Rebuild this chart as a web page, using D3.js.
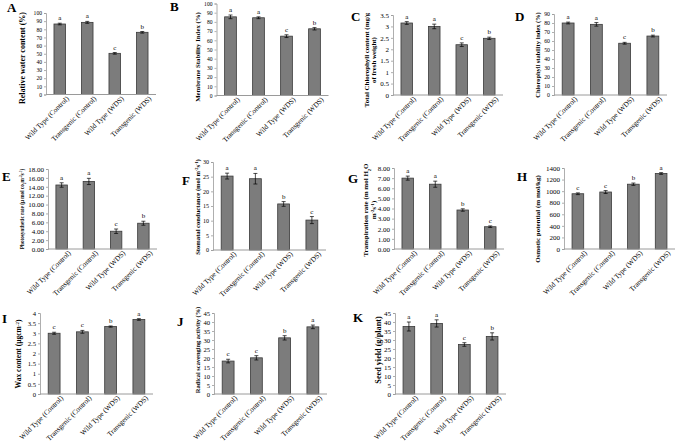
<!DOCTYPE html>
<html>
<head>
<meta charset="utf-8">
<script src="https://cdn.jsdelivr.net/npm/d3@7"></script>
<style>
  body { margin: 0; background: #fff; }
  text { font-family: "Liberation Serif", "Times New Roman", serif; fill: #000; }
</style>
</head>
<body>
<svg id="chart" width="676" height="444"></svg>
<script>
const categories = ['Wild Type (Control)', 'Transgenic (Control)', 'Wild Type (WDS)', 'Transgenic (WDS)'];

// A - relative water content (%)
const waterContent = [86.5, 88.5, 50.5, 76.3];
const waterContentErr = [1, 1.2, 1, 1];
const waterContentSig = ['a', 'a', 'c', 'b'];
// B - membrane stability index (%)
const membraneStability = [85.5, 84.5, 64.5, 72.5];
const membraneStabilityErr = [2, 1, 1.5, 1.3];
const membraneStabilitySig = ['a', 'a', 'c', 'b'];
// C - total chlorophyll (mg/g FW)
const chlorophyll = [3.15, 3.0, 2.2, 2.48];
const chlorophyllErr = [0.06, 0.1, 0.08, 0.05];
const chlorophyllSig = ['a', 'a', 'c', 'b'];
// D - chlorophyll stability index (%)
const chlStability = [80, 78.5, 57.5, 65.5];
const chlStabilityErr = [1, 2, 1, 1];
const chlStabilitySig = ['a', 'a', 'c', 'b'];
// E - photosynthetic rate
const photosynthesis = [14.4, 15.2, 4.0, 5.8];
const photosynthesisErr = [0.5, 0.7, 0.5, 0.45];
const photosynthesisSig = ['a', 'a', 'c', 'b'];
// F - stomatal conductance
const stomatal = [25.2, 24.3, 15.7, 10.2];
const stomatalErr = [1, 1.8, 0.8, 1.2];
const stomatalSig = ['a', 'a', 'b', 'c'];
// G - transpiration rate
const transpiration = [7.0, 6.4, 3.85, 2.2];
const transpirationErr = [0.2, 0.3, 0.12, 0.08];
const transpirationSig = ['a', 'a', 'b', 'c'];
// H - osmotic potential
const osmotic = [955, 985, 1120, 1305];
const osmoticErr = [15, 25, 20, 15];
const osmoticSig = ['c', 'c', 'b', 'a'];
// I - wax content
const wax = [3.0, 3.07, 3.33, 3.68];
const waxErr = [0.05, 0.07, 0.03, 0.04];
const waxSig = ['c', 'c', 'b', 'a'];
// J - radical scavenging activity (%)
const scavenging = [18.3, 20.1, 31.2, 37.3];
const scavengingErr = [1, 1.2, 1.2, 1];
const scavengingSig = ['c', 'c', 'b', 'a'];
// K - seed yield (g/plant)
const seedYield = [37.5, 39.2, 27.5, 32.0];
const seedYieldErr = [2.5, 2, 1, 2];
const seedYieldSig = ['a', 'a', 'c', 'b'];

// y-axis ranges: [max, step]
const axisA = [100, 10], axisB = [100, 10], axisC = [3.5, 0.5], axisD = [90, 10];
const axisE = [18, 2], axisF = [30, 5], axisG = [8, 1], axisH = [1400, 200];
const axisI = [4, 0.5], axisJ = [45, 5], axisK = [45, 5];

const fmtInt = d3.format('d');
const fmtGen = d => String(+d.toFixed(2));
const fmt2 = d3.format('.2f');

const panels = [
  { tag: 'A', v: waterContent, e: waterContentErr, s: waterContentSig, ax: axisA, fmt: fmtInt,
    title: [[['Relative water content (%)']]], box: [46, 156, 13, 94.5], tx: 22, ty: 58, ts: 8, ks: 5.6, lab: [7, 12] },
  { tag: 'B', v: membraneStability, e: membraneStabilityErr, s: membraneStabilitySig, ax: axisB, fmt: fmtInt,
    title: [[['Membrane Stability Index (%)']]], box: [216.5, 328.5, 3.5, 95.5], tx: 198, ty: 57, ts: 6.8, ks: 5.6, lab: [170, 11] },
  { tag: 'C', v: chlorophyll, e: chlorophyllErr, s: chlorophyllSig, ax: axisC, fmt: fmtGen,
    title: [[['Total Chlorophyll content (mg/g']], [['of fresh weight)']]], box: [393, 503, 15, 95], tx: 370, ty: 60, ts: 6.9, ks: 7, lab: [351, 21] },
  { tag: 'D', v: chlStability, e: chlStabilityErr, s: chlStabilitySig, ax: axisD, fmt: fmtInt,
    title: [[['Chlorophyll stability index (%)']]], box: [554, 667, 14, 95], tx: 538, ty: 55, ts: 6.4, ks: 5.8, lab: [515, 21] },
  { tag: 'E', v: photosynthesis, e: photosynthesisErr, s: photosynthesisSig, ax: axisE, fmt: fmt2,
    title: [[['Photosynthetic rate (\u00b5 mol co'], ['2', 'sub'], ['m'], ['-2', 'sup'], ['s'], ['-1', 'sup'], [')']]],
    box: [48, 157, 169, 249], tx: 22, ty: 209, ts: 5.2, ks: 7, lab: [2, 181] },
  { tag: 'F', v: stomatal, e: stomatalErr, s: stomatalSig, ax: axisF, fmt: fmtInt,
    title: [[['Stomatal conductance (mol m'], ['-2', 'sup'], ['s'], ['-1', 'sup'], [')']]],
    box: [213, 326, 162, 250], tx: 198, ty: 207, ts: 6.6, ks: 6, lab: [182, 185] },
  { tag: 'G', v: transpiration, e: transpirationErr, s: transpirationSig, ax: axisG, fmt: fmt2,
    title: [[['Transpiration rate (m mol H'], ['2', 'sub'], ['O']], [['m'], ['-2', 'sup'], ['s'], ['-1', 'sup'], [')']]],
    box: [394, 504, 168, 249], tx: 369.5, ty: 210, ts: 7, ks: 7, lab: [348, 183] },
  { tag: 'H', v: osmotic, e: osmoticErr, s: osmoticSig, ax: axisH, fmt: fmtInt,
    title: [[['Osmotic potential (m mol/kg)']]], box: [564, 675, 168, 249], tx: 538, ty: 219, ts: 7, ks: 7, lab: [517, 181] },
  { tag: 'I', v: wax, e: waxErr, s: waxSig, ax: axisI, fmt: fmtGen,
    title: [[['Wax content (\u00b5gcm'], ['-2', 'sup'], [')']]], box: [40, 153, 313, 394], tx: 18, ty: 354, ts: 7.5, ks: 6.6, lab: [2, 323] },
  { tag: 'J', v: scavenging, e: scavengingErr, s: scavengingSig, ax: axisJ, fmt: fmtInt,
    title: [[['Radical scavenging activity (%)']]], box: [214, 327, 313, 394], tx: 198, ty: 350, ts: 6.4, ks: 6.6, lab: [177, 326] },
  { tag: 'K', v: seedYield, e: seedYieldErr, s: seedYieldSig, ax: axisK, fmt: fmtInt,
    title: [[['Seed yield (g/plant)']]], box: [395, 506, 313, 394], tx: 378, ty: 350, ts: 8.2, ks: 7, lab: [353, 322] }
];

const svg = d3.select('#chart');

function drawPanel(p) {
  const [x0, x1, y0, y1] = p.box;
  const g = svg.append('g');

  const x = d3.scaleBand().domain(categories).range([x0, x1])
    .paddingInner(0.58).paddingOuter(0.29);
  const y = d3.scaleLinear().domain([0, p.ax[0]]).range([y1, y0]);
  const ticks = d3.range(0, p.ax[0] + p.ax[1] / 2, p.ax[1]);

  // y axis
  const yAxis = d3.axisLeft(y).tickValues(ticks).tickFormat(p.fmt).tickSize(2).tickPadding(2);
  const ya = g.append('g').attr('transform', `translate(${x0},0)`).call(yAxis);
  ya.select('.domain').attr('stroke', '#9a9a9a').attr('stroke-width', 0.8);
  ya.selectAll('.tick line').attr('stroke', '#9a9a9a').attr('stroke-width', 0.8);
  ya.selectAll('.tick text').attr('font-size', p.ks)
    .attr('font-family', '"Liberation Serif", serif').attr('fill', '#000');

  // bars
  g.selectAll('rect.bar').data(p.v).join('rect')
    .attr('class', 'bar')
    .attr('x', (d, i) => x(categories[i]))
    .attr('width', x.bandwidth())
    .attr('y', d => y(d))
    .attr('height', d => y1 - y(d))
    .attr('fill', '#7c7c7c')
    .attr('stroke', '#3a3a3a')
    .attr('stroke-width', 0.8);

  // baseline
  g.append('line').attr('x1', x0).attr('x2', x1).attr('y1', y1).attr('y2', y1)
    .attr('stroke', '#9a9a9a').attr('stroke-width', 1);

  // error bars
  const cap = 2;
  p.v.forEach((d, i) => {
    const cx = x(categories[i]) + x.bandwidth() / 2;
    const top = y(d + p.e[i]), bot = y(d - p.e[i]);
    const eg = g.append('g').attr('stroke', '#000').attr('stroke-width', 0.7);
    eg.append('line').attr('x1', cx).attr('x2', cx).attr('y1', top).attr('y2', bot);
    eg.append('line').attr('x1', cx - cap).attr('x2', cx + cap).attr('y1', top).attr('y2', top);
    eg.append('line').attr('x1', cx - cap).attr('x2', cx + cap).attr('y1', bot).attr('y2', bot);
    g.append('text').attr('x', cx).attr('y', top - 3)
      .attr('text-anchor', 'middle').attr('font-size', 7).text(p.s[i]);
  });

  // category labels
  categories.forEach(c => {
    const cx = x(c) + x.bandwidth() / 2;
    g.append('text')
      .attr('transform', `translate(${cx + 6},${y1 + 1}) rotate(-45)`)
      .attr('text-anchor', 'end').attr('dy', '0.7em')
      .attr('font-size', 7.2).text(c);
  });

  // y title
  const lh = p.ts * 1.05;
  p.title.forEach((segs, i) => {
    const cx = p.tx + (i - (p.title.length - 1) / 2) * lh;
    const t = g.append('text')
      .attr('transform', `translate(${cx},${p.ty}) rotate(-90)`)
      .attr('text-anchor', 'middle').attr('dy', '0.35em')
      .attr('font-weight', 'bold').attr('font-size', p.ts);
    segs.forEach(([str, kind]) => {
      const ts = t.append('tspan').text(str);
      if (kind) ts.attr('font-size', p.ts * 0.65).attr('baseline-shift', kind === 'sup' ? 'super' : 'sub');
    });
  });

  // panel letter
  g.append('text').attr('x', p.lab[0]).attr('y', p.lab[1])
    .attr('font-weight', 'bold').attr('font-size', 13).text(p.tag);
}

panels.forEach(drawPanel);
</script>
</body>
</html>
